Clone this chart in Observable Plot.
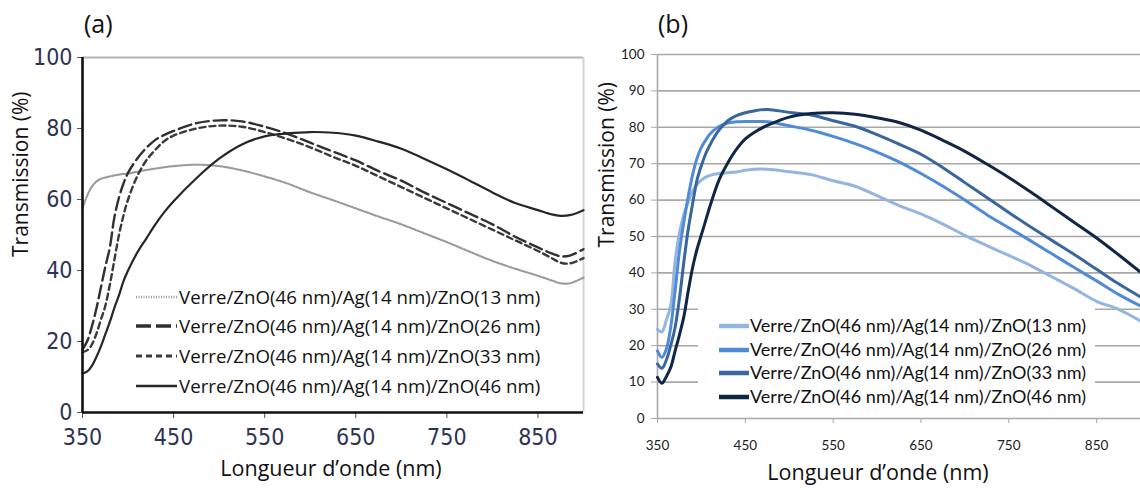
<!DOCTYPE html>
<html><head><meta charset="utf-8">
<script src="https://cdn.jsdelivr.net/npm/d3@7"></script>
<script src="https://cdn.jsdelivr.net/npm/@observablehq/plot@0.6"></script>
<style>
body{margin:0;background:#fff;}
#wrap{position:relative;width:1140px;height:490px;overflow:hidden;background:#fff;}
.panel{position:absolute;top:0;}
.tag{position:absolute;top:6px;font-family:"Open Sans",sans-serif;font-size:25px;color:#111;line-height:34px;}
.leg{position:absolute;font-family:"Open Sans",sans-serif;color:#111;}
.row{position:absolute;left:0;display:flex;align-items:center;white-space:nowrap;}
.row svg{display:block;flex:none;}
#pa g[aria-label="x-axis tick label"] text, #pa g[aria-label="y-axis tick label"] text{font-family:"DejaVu Sans",sans-serif;font-stretch:condensed;}
</style></head>
<body><div id="wrap">
<div id="pa" class="panel" style="left:0"></div>
<div id="pb" class="panel" style="left:590px"></div>
<div class="tag" style="left:84px">(a)</div>
<div class="tag" style="left:658px">(b)</div>
<div id="lega" class="leg"></div>
<div id="legb" class="leg"></div>
</div>
<script>
// ---------- data ----------
const seriesLabels = [
  "Verre/ZnO(46 nm)/Ag(14 nm)/ZnO(13 nm)",
  "Verre/ZnO(46 nm)/Ag(14 nm)/ZnO(26 nm)",
  "Verre/ZnO(46 nm)/Ag(14 nm)/ZnO(33 nm)",
  "Verre/ZnO(46 nm)/Ag(14 nm)/ZnO(46 nm)"
];
const xTicks = [350, 450, 550, 650, 750, 850];
const yTicksA = [0, 20, 40, 60, 80, 100];
const yTicksB = [0, 10, 20, 30, 40, 50, 60, 70, 80, 90, 100];
const xLabel = "Longueur d’onde (nm)";
const yLabel = "Transmission (%)";

// panel (a)
const wavelengthsA = [350,355,360,365,370,375,380,385,390,395,400,410,420,430,440,450,475,500,525,550,575,600,625,650,675,700,725,750,775,800,825,850,865,875,885,900];
const a13 = [57.5,61,63.5,65,65.8,66.2,66.5,66.8,67,67.2,67.3,67.8,68.3,68.7,69.1,69.4,69.8,69.4,68.2,66.5,64.5,62,59.8,57.5,55.2,53,50.5,48,45.3,42.7,40.5,38.5,37.2,36.4,36.4,38];
const a26 = [17.8,20,24,29,35,41,46.5,55,60.5,64.5,67.5,71.5,74.5,76.8,78.2,79.3,81.5,82.3,82,80.5,78.5,76,73.5,71,68,65.3,62,59,56,53,49.5,46.5,44.8,44,44.2,46];
const a33 = [17,17.5,19,22,26,30,36,43,50,55.5,60,66.5,71,74,76.5,78,80,80.8,80.5,79,77,74.7,72,69.5,66.5,63.5,60.5,57.5,54.5,51.5,48.5,45.5,43.5,42.2,42,43.5];
const a46 = [11,11.5,13,15.5,18.5,22,25.5,29.5,33,37,40,45,49,53,56.5,59.5,66,71.5,75.5,77.8,78.6,79,78.8,78,76.3,74.3,71.5,68.5,65.3,62,59,57,55.8,55.4,55.6,57];

// panel (b)
const wavelengthsB = [350,355,360,365,370,375,380,385,390,395,400,405,410,420,430,440,450,460,475,500,525,550,575,600,625,650,675,700,725,750,775,800,825,850,875,900];
const b13 = [24.5,23.8,27,31,43,51,56,59.5,62.5,64.3,65.5,66.3,66.8,67.3,67.5,67.7,68.2,68.5,68.5,67.8,67,65.3,63.8,61.2,58.5,56.2,53.4,50.3,47.5,44.8,42,38.8,35.6,32.2,30,26.8];
const b26 = [18.6,16.8,19,25,35,46,54,61,67,71.5,74.5,76.5,78.2,80.2,81.2,81.5,81.6,81.6,81.5,80.4,79.2,77.5,75.5,73.2,70.5,67.3,63.8,60,56,52.4,48.8,45.1,41.4,37.8,34.1,30.9];
const b33 = [15,13.8,16,20,25,33,43,52,59,65.5,69.5,72.8,75.3,79.2,81.8,83.2,84,84.5,84.9,84.1,83.4,81.8,80.3,78,75.4,72.6,68.9,64.8,60.7,56.6,52.6,48.8,45,41,37,33.4];
const b46 = [11.3,9.7,11.5,14,18.5,23,28,35,41.5,46.5,50.5,54.5,58.5,65.5,70.2,74,76.8,78.6,80.5,82.8,83.8,84,83.6,82.6,81.3,79.2,76.4,73.4,69.9,66.2,62.2,58,53.8,49.6,45,40.2];

// ---------- styles ----------
const stylesA = [
  {stroke:"#9a9a9a", strokeWidth:2.2, strokeDasharray:"1,1.8"},
  {stroke:"#303030", strokeWidth:2.4, strokeDasharray:"13,5"},
  {stroke:"#3a3a3a", strokeWidth:2.4, strokeDasharray:"6,4"},
  {stroke:"#262626", strokeWidth:2.2, strokeDasharray:null}
];
const colorsB = ["#93b5e0", "#4f8bd6", "#3a669e", "#0f2645"];

const tidy = (wl, arrs) => arrs.map((arr, s) => wl.map((w, i) => ({wl: w, t: arr[i], s})));
const dataA = tidy(wavelengthsA, [a13, a26, a33, a46]);
const dataB = tidy(wavelengthsB, [b13, b26, b33, b46]);

const sans = "'Open Sans',sans-serif";

// ---------- panel (a) ----------
const plotA = Plot.plot({
  width: 590, height: 490,
  marginLeft: 82, marginRight: 7, marginTop: 57, marginBottom: 78,
  style: {background: "white", overflow: "visible"},
  x: {domain: [350, 900]},
  y: {domain: [0, 100]},
  marks: [
    Plot.ruleY([100], {stroke: "#b4b4b4", strokeWidth: 2}),
    Plot.ruleX([900], {stroke: "#d4d4d4", strokeWidth: 2}),
    Plot.axisX({ticks: xTicks, tickSize: 6, tickPadding: 10, fontSize: 23,
      stroke: "#555", fill: "#2e3352", label: null, tickFormat: d => String(d)}),
    Plot.axisY({ticks: yTicksA, tickSize: 5, tickPadding: 5, fontSize: 23,
      stroke: "#555", fill: "#2e3352", label: null, tickFormat: d => String(d)}),
    ...dataA.map((d, s) => Plot.line(d, {x: "wl", y: "t", curve: "catmull-rom", ...stylesA[s]})),
    Plot.ruleX([350], {stroke: "#111", strokeWidth: 2.6}),
    Plot.ruleY([0], {stroke: "#111", strokeWidth: 2.6}),
    Plot.text([yLabel], {frameAnchor: "left", rotate: -90, dx: -61, dy: 22, fontSize: 21, fontFamily: sans, fill: "#111"}),
    Plot.text([xLabel], {frameAnchor: "bottom", lineAnchor: "middle", dx: -2, dy: 57, fontSize: 21.5, fontFamily: sans, fill: "#111"})
  ]
});
document.getElementById("pa").append(plotA);

// ---------- panel (b) ----------
const plotB = Plot.plot({
  width: 550, height: 490,
  marginLeft: 67, marginRight: 0, marginTop: 54, marginBottom: 72,
  style: {background: "transparent", overflow: "visible"},
  x: {domain: [350, 900]},
  y: {domain: [0, 100]},
  marks: [
    Plot.gridY({ticks: yTicksB.slice(1), stroke: "#a8a8a8", strokeOpacity: 1, strokeWidth: 1.6}),
    Plot.axisY({ticks: yTicksB, tickSize: 6, tickPadding: 7, fontSize: 13.5, fontFamily: "Lato,sans-serif",
      stroke: "#a8a8a8", fill: "#222", label: null, tickFormat: d => String(d)}),
    Plot.axisX({ticks: xTicks, tickSize: 5, tickPadding: 17, fontSize: 13.5, fontFamily: "Lato,sans-serif",
      stroke: "#a8a8a8", fill: "#222", label: null, tickFormat: d => String(d)}),
    Plot.ruleX([350], {stroke: "#a8a8a8", strokeWidth: 1.6}),
    Plot.ruleY([0], {stroke: "#a8a8a8", strokeWidth: 1.6}),
    ...dataB.map((d, s) => Plot.line(d, {x: "wl", y: "t", curve: "catmull-rom", stroke: colorsB[s], strokeWidth: 3})),
    Plot.text([yLabel], {frameAnchor: "left", rotate: -90, dx: -50, dy: 11, fontSize: 21, fontFamily: sans, fill: "#111"}),
    Plot.text([xLabel], {frameAnchor: "bottom", lineAnchor: "middle", dx: -21, dy: 55, fontSize: 21.5, fontFamily: sans, fill: "#111"})
  ]
});
document.getElementById("pb").append(plotB);

// ---------- legends ----------
function buildLegend(el, opts) {
  el.style.left = opts.left + "px";
  el.style.top = opts.top + "px";
  el.style.width = opts.width + "px";
  el.style.height = opts.height + "px";
  if (opts.bg) el.style.background = opts.bg;
  el.style.fontFamily = opts.font;
  el.style.fontSize = opts.fontSize + "px";
  seriesLabels.forEach((lab, i) => {
    const row = document.createElement("div");
    row.className = "row";
    row.style.left = opts.sampleLeft + "px";
    row.style.top = (opts.rowCenters[i] - opts.rowH / 2) + "px";
    row.style.height = opts.rowH + "px";
    const st = opts.sampleStyle(i);
    const svg = `<svg width="${opts.sampleW}" height="${opts.rowH}"><line x1="0" x2="${opts.sampleW}" y1="${opts.rowH/2 + 1}" y2="${opts.rowH/2 + 1}" stroke="${st.stroke}" stroke-width="${st.width}" ${st.dash ? `stroke-dasharray="${st.dash}"` : ""}/></svg>`;
    row.innerHTML = svg + `<span style="margin-left:${opts.gap}px">${lab}</span>`;
    el.append(row);
  });
}
buildLegend(document.getElementById("lega"), {
  left: 0, top: 0, width: 0, height: 0,
  font: sans, fontSize: 18.7, rowH: 28, sampleLeft: 136, sampleW: 41, gap: 2,
  rowCenters: [296, 325, 355, 385],
  sampleStyle: i => ({stroke: stylesA[i].stroke, width: [2.5, 3.5, 3, 2.5][i], dash: ["1,1.5", "15,5", "6,4", null][i]})
});
buildLegend(document.getElementById("legb"), {
  left: 698, top: 307, width: 397, height: 98, bg: "#fff",
  font: "Lato,sans-serif", fontSize: 18, rowH: 24, sampleLeft: 21, sampleW: 30, gap: 1,
  rowCenters: [18, 42, 65, 89],
  sampleStyle: i => ({stroke: colorsB[i], width: 4.5, dash: null})
});
</script>
</body></html>
